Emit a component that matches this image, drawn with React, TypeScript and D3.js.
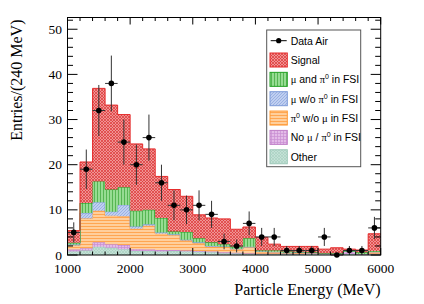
import React from 'react';
import * as d3 from 'd3';

// bin lower edges (MeV), 200 MeV wide
const binLow = [1000, 1200, 1400, 1600, 1800, 2000, 2200, 2400, 2600, 2800, 3000, 3200, 3400,
  3600, 3800, 4000, 4200, 4400, 4600, 4800, 5000, 5200, 5400, 5600, 5800];
const binWidth = 200;

// stacked MC components, bottom to top
const other = [0.8, 1.0, 1.8, 1.6, 1.3, 0.9, 0.9, 0.8, 0.9, 0.8, 0.7, 0.6, 0.4, 0.4, 0.3, 0.2, 0.2, 0.2, 0.2, 0.3, 0.3, 0.1, 0.2, 0.1, 0.2];
const noMuPi0 = [0.4, 0.5, 1.0, 0.8, 0.9, 0.4, 0.3, 0.3, 0.2, 0.2, 0.2, 0.2, 0.2, 0.1, 0.1, 0.1, 0.1, 0.1, 0.1, 0.1, 0.0, 0.1, 0.6, 0.1, 0.1];
const pi0NoMu = [0.9, 6.6, 7.0, 6.3, 6.4, 4.5, 5.3, 3.6, 3.3, 2.2, 1.7, 1.0, 1.2, 0.8, 1.3, 0.4, 0.4, 0.1, 0.3, 0.1, 0.1, 0.1, 0.0, 0.0, 0.4];
const muNoPi0 = [0.2, 1.2, 1.9, 0.9, 2.5, 0.5, 0.3, 0.3, 0.2, 0.2, 0.2, 0.2, 0.1, 0.1, 0.1, 0.1, 0.0, 0.1, 0.0, 0.0, 0.0, 0.0, 0.0, 0.0, 0.0];
const muAndPi0 = [0.4, 2.2, 4.6, 4.9, 3.9, 3.5, 3.2, 3.2, 0.6, 1.7, 0.9, 0.8, 0.5, 0.4, 1.9, 0.2, 0.3, 0.3, 0.1, 0.1, 0.0, 0.1, 0.1, 0.4, 0.2];
const signal = [2.7, 9.1, 20.6, 18.7, 16.1, 14.8, 13.5, 9.2, 9.3, 7.9, 5.2, 5.4, 5.6, 3.9, 2.5, 2.9, 1.4, 1.1, 1.2, 1.3, 0.9, 1.2, 0.4, 0.5, 3.8];

// data (Air)
const dataAir = [5, 19, 32, 38, 25, 20, 26, 16, 11, 10, 11, 9, 3, 2, 7, 4, 4, 1, 1, 1, 4, 0, 1, 1, 6];

const xTicks = [1000, 2000, 3000, 4000, 5000, 6000];
const yTicks = [0, 10, 20, 30, 40, 50];

const layers = [
  { key: 'other', values: other, fill: 'url(#pOther)', stroke: '#9cc8b8' },
  { key: 'nomu', values: noMuPi0, fill: 'url(#pPurple)', stroke: '#c080c8' },
  { key: 'pi0', values: pi0NoMu, fill: 'url(#pOrange)', stroke: '#ff9933' },
  { key: 'mu', values: muNoPi0, fill: 'url(#pBlue)', stroke: '#7c9ad8' },
  { key: 'mupi0', values: muAndPi0, fill: 'url(#pGreen)', stroke: '#22a022' },
  { key: 'signal', values: signal, fill: 'url(#pRed)', stroke: '#e52b2b' },
];

const W = 424, H = 304;
const L = 67.5, R = 380.7, T = 17.5, B = 255;

const x = d3.scaleLinear().domain([1000, 6000]).range([L, R]);
const y = d3.scaleLinear().domain([0, 52.6]).range([B, T]);

const serif = '"Liberation Serif", "DejaVu Serif", serif';
const sans = '"Liberation Sans", Arial, sans-serif';

function Greek({ children }: { children: React.ReactNode }) {
  return <tspan fontFamily={serif}>{children}</tspan>;
}

function Sup0() {
  return <tspan fontSize={7} dy={-4}>0</tspan>;
}

export default function App() {
  // cumulative stacks
  const cum: number[][] = [];
  let prev = binLow.map(() => 0);
  layers.forEach(l => {
    const next = prev.map((p, i) => p + l.values[i]);
    cum.push(next);
    prev = next;
  });

  const stepPts = (vals: number[]) => {
    const pts = binLow.map((b, i) => [b, vals[i]] as [number, number]);
    pts.push([binLow[binLow.length - 1] + binWidth, vals[vals.length - 1]]);
    return pts;
  };

  const line = d3.line<[number, number]>()
    .x(d => x(d[0])).y(d => y(d[1])).curve(d3.curveStepAfter);

  const areas = layers.map((l, k) => {
    const lower = k === 0 ? binLow.map(() => 0) : cum[k - 1];
    const upper = cum[k];
    const lo = stepPts(lower), up = stepPts(upper);
    const area = d3.area<number>()
      .x(i => x(up[i][0]))
      .y0(i => y(lo[i][1]))
      .y1(i => y(up[i][1]))
      .curve(d3.curveStepAfter);
    return { l, d: area(d3.range(up.length)) || '', top: line(up) || '' };
  });

  const xMinor = d3.range(1000, 6001, 200);
  const yMinor = d3.range(0, 52.6, 2);

  const legendItems = [
    { fill: 'url(#pRed)', stroke: '#e52b2b', label: <>Signal</> },
    { fill: 'url(#pGreen)', stroke: '#22a022', label: <><Greek>μ</Greek> and <Greek>π</Greek><Sup0 /><tspan dy={4}> in FSI</tspan></> },
    { fill: 'url(#pBlue)', stroke: '#7c9ad8', label: <><Greek>μ</Greek> w/o <Greek>π</Greek><Sup0 /><tspan dy={4}> in FSI</tspan></> },
    { fill: 'url(#pOrange)', stroke: '#ff9933', label: <><Greek>π</Greek><Sup0 /><tspan dy={4}> w/o </tspan><Greek>μ</Greek> in FSI</> },
    { fill: 'url(#pPurple)', stroke: '#c080c8', label: <>No <Greek>μ</Greek> / <Greek>π</Greek><Sup0 /><tspan dy={4}> in FSI</tspan></> },
    { fill: 'url(#pOther)', stroke: '#9cc8b8', label: <>Other</> },
  ];

  return (
    <svg width={W} height={H} style={{ position: 'absolute', left: 0, top: 0, background: '#fff' }}>
      <defs>
        <pattern id="pRed" width={3} height={3} patternUnits="userSpaceOnUse">
          <rect width={3} height={3} fill="#f09494" />
          <path d="M0,3 L3,0 M0,0 L3,3" stroke="#dd3535" strokeWidth={0.7} />
        </pattern>
        <pattern id="pGreen" width={3} height={3} patternUnits="userSpaceOnUse">
          <rect width={3} height={3} fill="#96dc92" />
          <path d="M1.5,0 L1.5,3" stroke="#4fb24c" strokeWidth={0.9} />
        </pattern>
        <pattern id="pBlue" width={3} height={3} patternUnits="userSpaceOnUse">
          <rect width={3} height={3} fill="#c0cff0" />
          <path d="M0,3 L3,0" stroke="#90a9e0" strokeWidth={0.8} />
        </pattern>
        <pattern id="pOrange" width={3} height={3} patternUnits="userSpaceOnUse">
          <rect width={3} height={3} fill="#ffcf9c" />
          <path d="M0,1.5 L3,1.5" stroke="#ffa14a" strokeWidth={0.9} />
        </pattern>
        <pattern id="pPurple" width={3} height={3} patternUnits="userSpaceOnUse">
          <rect width={3} height={3} fill="#e3bbe8" />
          <path d="M1.5,0 L1.5,3 M0,1.5 L3,1.5" stroke="#c98fd2" strokeWidth={0.7} />
        </pattern>
        <pattern id="pOther" width={3} height={3} patternUnits="userSpaceOnUse">
          <rect width={3} height={3} fill="#c3e1d6" />
          <path d="M0,3 L3,0 M0,0 L3,3" stroke="#a6cfc0" strokeWidth={0.6} />
        </pattern>
      </defs>

      {/* stacked histogram */}
      {areas.map(a => (
        <g key={a.l.key}>
          <path d={a.d} fill={a.l.fill} stroke="none" />
          <path d={a.top} fill="none" stroke={a.l.stroke} strokeWidth={1} />
        </g>
      ))}

      {/* data points */}
      {dataAir.map((v, i) => {
        const cx = x(binLow[i] + binWidth / 2);
        const e = Math.sqrt(v);
        return (
          <g key={i}>
            <line x1={x(binLow[i])} x2={x(binLow[i] + binWidth)} y1={y(v)} y2={y(v)} stroke="#333" strokeWidth={1} />
            {v > 0 && <line x1={cx} x2={cx} y1={y(v - e)} y2={y(v + e)} stroke="#333" strokeWidth={1} />}
            <circle cx={cx} cy={y(v)} r={2.8} fill="#000" />
          </g>
        );
      })}

      {/* frame */}
      <rect x={L} y={T} width={R - L} height={B - T} fill="none" stroke="#000" strokeWidth={1} />

      {/* x ticks */}
      {xMinor.map(t => {
        const major = t % 1000 === 0;
        const len = major ? 7 : 3.5;
        return (
          <g key={'x' + t}>
            <line x1={x(t)} x2={x(t)} y1={B} y2={B - len} stroke="#000" />
            <line x1={x(t)} x2={x(t)} y1={T} y2={T + len} stroke="#000" />
          </g>
        );
      })}
      {/* y ticks */}
      {yMinor.map(t => {
        const major = t % 10 === 0;
        const len = major ? 10 : 5.5;
        return (
          <g key={'y' + t}>
            <line x1={L} x2={L + len} y1={y(t)} y2={y(t)} stroke="#000" />
            <line x1={R} x2={R - len} y1={y(t)} y2={y(t)} stroke="#000" />
          </g>
        );
      })}

      {xTicks.map(t => (
        <text key={'xl' + t} x={x(t)} y={273} textAnchor="middle" fontFamily={serif} fontSize={13.5}>{t}</text>
      ))}
      {yTicks.map(t => (
        <text key={'yl' + t} x={62} y={y(t) + 4.5} textAnchor="end" fontFamily={serif} fontSize={13.5}>{t}</text>
      ))}

      <text x={R} y={295} textAnchor="end" fontFamily={serif} fontSize={16}>Particle Energy (MeV)</text>
      <text transform={`translate(22,${T + 2}) rotate(-90)`} textAnchor="end" fontFamily={serif} fontSize={16}>Entries/(240 MeV)</text>

      {/* legend */}
      <rect x={266.7} y={30} width={94} height={136.7} fill="#fff" stroke="#555" strokeWidth={1} />
      <line x1={270.7} x2={286.7} y1={40.7} y2={40.7} stroke="#000" />
      <circle cx={278.7} cy={40.7} r={2.6} fill="#000" />
      <text x={290.7} y={44.5} fontFamily={sans} fontSize={10.5}>Data Air</text>
      {legendItems.map((it, i) => {
        const cy = 60 + i * 19.35;
        return (
          <g key={'lg' + i}>
            <rect x={270} y={cy - 7} width={17.3} height={14} fill={it.fill} stroke={it.stroke} strokeWidth={1} />
            <text x={290.7} y={cy + 4} fontFamily={sans} fontSize={10.5}>{it.label}</text>
          </g>
        );
      })}
    </svg>
  );
}
